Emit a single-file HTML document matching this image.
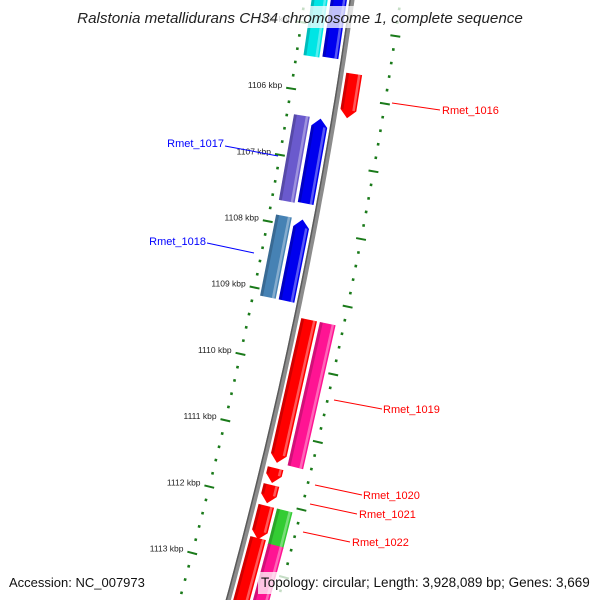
<!DOCTYPE html>
<html><head><meta charset="utf-8"><style>
html,body{margin:0;background:#fff;overflow:hidden;width:600px;height:600px}
svg{display:block;font-family:"Liberation Sans",sans-serif;overflow:hidden}
</style></head><body>
<svg id="map" width="600" height="600" viewBox="0 0 600 600" xmlns="http://www.w3.org/2000/svg">
<g id="ticks"></g>
<g id="backbone"></g>
<g id="genes"></g>
<g id="labels">
<line x1="392" y1="103" x2="440" y2="110" stroke="#f00"/>
<text x="442" y="114" font-size="11" fill="#f00">Rmet_1016</text>
<line x1="225" y1="146" x2="278" y2="156" stroke="#00f"/>
<text x="224" y="147" font-size="11" fill="#00f" text-anchor="end">Rmet_1017</text>
<line x1="207" y1="243" x2="254" y2="253" stroke="#00f"/>
<text x="206" y="245" font-size="11" fill="#00f" text-anchor="end">Rmet_1018</text>
<line x1="334" y1="400" x2="382" y2="409" stroke="#f00"/>
<text x="383" y="413" font-size="11" fill="#f00">Rmet_1019</text>
<line x1="315" y1="485" x2="362" y2="495" stroke="#f00"/>
<text x="363" y="499" font-size="11" fill="#f00">Rmet_1020</text>
<line x1="310" y1="504" x2="357" y2="514" stroke="#f00"/>
<text x="359" y="518" font-size="11" fill="#f00">Rmet_1021</text>
<line x1="303" y1="532" x2="350" y2="542" stroke="#f00"/>
<text x="352" y="546" font-size="11" fill="#f00">Rmet_1022</text>
</g>
<rect x="70" y="6" width="460" height="22" fill="#fff" fill-opacity="0.75"/>
<text x="300" y="23" font-size="15.2" font-style="italic" text-anchor="middle" fill="#222">Ralstonia metallidurans CH34 chromosome 1, complete sequence</text>
<text x="9" y="587" font-size="13" fill="#111">Accession: NC_007973</text>
<rect x="258" y="572" width="338" height="22" fill="#fff" fill-opacity="0.75"/>
<text x="261" y="587" font-size="13.5" fill="#111">Topology: circular; Length: 3,928,089 bp; Genes: 3,669</text>
</svg>
<script>
// data (kbp)
const geneStarts = [1104.45, 1104.45, 1105.64, 1106.37, 1106.37, 1107.88, 1107.88, 1109.30, 1109.30, 1111.51, 1111.76, 1112.07, 1112.07, 1112.55, 1112.59];
const geneEnds   = [1105.48, 1105.46, 1106.30, 1107.66, 1107.64, 1109.10, 1109.10, 1111.43, 1111.43, 1111.73, 1112.03, 1112.57, 1112.61, 1113.90, 1113.90];
const geneTracks = [-2, -1, 1, -2, -1, -2, -1, 1, 2, 1, 1, 1, 2, 1, 2];
const geneArrows = ["none", "start", "end", "none", "start", "none", "start", "end", "none", "end", "end", "end", "none", "none", "none"];
const geneColors = ["#00e5e5", "#0000ee", "#ff0000", "#6a5acd", "#0000ee", "#4682b4", "#0000ee", "#ff0000", "#ff1493", "#ff0000", "#ff0000", "#ff0000", "#33cc33", "#ff0000", "#ff1493"];
const geneNames = ["gene-cyan-top", "cds-top", "cds-rmet-1016", "gene-rmet-1017", "cds-rmet-1017", "gene-rmet-1018", "cds-rmet-1018", "cds-rmet-1019", "gene-rmet-1019", "cds-rmet-1020", "cds-rmet-1021", "cds-rmet-1022", "gene-rmet-1022", "cds-next", "gene-next"];
const tickMin = 1104.4, tickMax = 1114.0, minorStep = 0.2;

const NS = "http://www.w3.org/2000/svg";
function sOf(k){ return 96 + (k - 1106) * 67; }
function pt(s, d){
  const xb = 352 - 0.1405*s - 1.095e-4*s*s;
  const sl = -0.1405 - 2.19e-4*s;
  const n = Math.sqrt(1 + sl*sl);
  return [xb + d/n, s - sl*d/n];
}
function mk(tag, attrs, parent){
  const e = document.createElementNS(NS, tag);
  for (const k in attrs) e.setAttribute(k, attrs[k]);
  parent.appendChild(e); return e;
}
function poly(pts){ return pts.map(p => p[0].toFixed(1)+","+p[1].toFixed(1)).join(" "); }

// backbone
const bb = document.getElementById("backbone");
let bpts = []; for (let s = -20; s <= 610; s += 10) bpts.push(pt(s, 0));
let p1 = mk("polyline", {points: poly(bpts), fill: "none", stroke: "#8c8c8c", "stroke-width": 5}, bb);


let bpts2 = []; for (let s = -20; s <= 610; s += 10) bpts2.push(pt(s, -1.8));
let p2 = mk("polyline", {points: poly(bpts2), fill: "none", stroke: "#5a5a5a", "stroke-width": 1.5}, bb);



// ticks
const tg = document.getElementById("ticks");
const nT = Math.round((tickMax - tickMin) / minorStep);
for (let i = 0; i <= nT; i++){
  const k = tickMin + i*minorStep;
  const s = sOf(k);
  const major = Math.abs(k - Math.round(k)) < 1e-6;
  [-47, 48].forEach(dc => {
    const h = major ? 5 : 1.3;
    const a = pt(s, dc - h), b = pt(s, dc + h);
    const l = mk("line", {x1: a[0], y1: a[1], x2: b[0], y2: b[1], stroke: "#1a7a1a", "stroke-width": major ? 2 : 2.6}, tg);
    
    
  });
  if (major){
    const p = pt(s, -56);
    const t = mk("text", {x: p[0], y: p[1] + 1, "font-size": 8.5, "text-anchor": "end", fill: "#222"}, tg);
    t.textContent = Math.round(k) + " kbp";
    
    
  }
}

// genes
const gg = document.getElementById("genes");
for (let i = 0; i < geneStarts.length; i++){
  const s1 = sOf(geneStarts[i]), s2 = sOf(geneEnds[i]);
  const dc = geneTracks[i] < 0 ? (geneTracks[i] === -1 ? -13 : -32) : (geneTracks[i] === 1 ? 13 : 32);
  const hw = 8, tip = 8;
  let pts;
  if (geneArrows[i] === "end"){
    const sb = Math.max(s1, s2 - tip);
    pts = [pt(s1, dc-hw), pt(s1, dc+hw), pt(sb, dc+hw), pt(s2, dc), pt(sb, dc-hw)];
  } else if (geneArrows[i] === "start"){
    const sb = Math.min(s2, s1 + tip);
    pts = [pt(s1, dc), pt(sb, dc+hw), pt(s2, dc+hw), pt(s2, dc-hw), pt(sb, dc-hw)];
  } else {
    pts = [pt(s1, dc-hw), pt(s1, dc+hw), pt(s2, dc+hw), pt(s2, dc-hw)];
  }
  const g = mk("polygon", {points: poly(pts), fill: geneColors[i]}, gg);
  
  
  const a0 = geneArrows[i] === "start" ? s1 + tip : s1;
  const a1 = geneArrows[i] === "end" ? s2 - tip : s2;
  const dk = mk("polygon", {points: poly([pt(a0, dc-hw), pt(a0, dc-hw+3), pt(a1, dc-hw+3), pt(a1, dc-hw)]), fill: "#000", "fill-opacity": 0.18}, gg);
  
  
  const lt = mk("polygon", {points: poly([pt(a0, dc+hw-4), pt(a0, dc+hw-1.5), pt(a1, dc+hw-1.5), pt(a1, dc+hw-4)]), fill: "#fff", "fill-opacity": 0.35}, gg);
  
  
}
</script>
</body></html>
